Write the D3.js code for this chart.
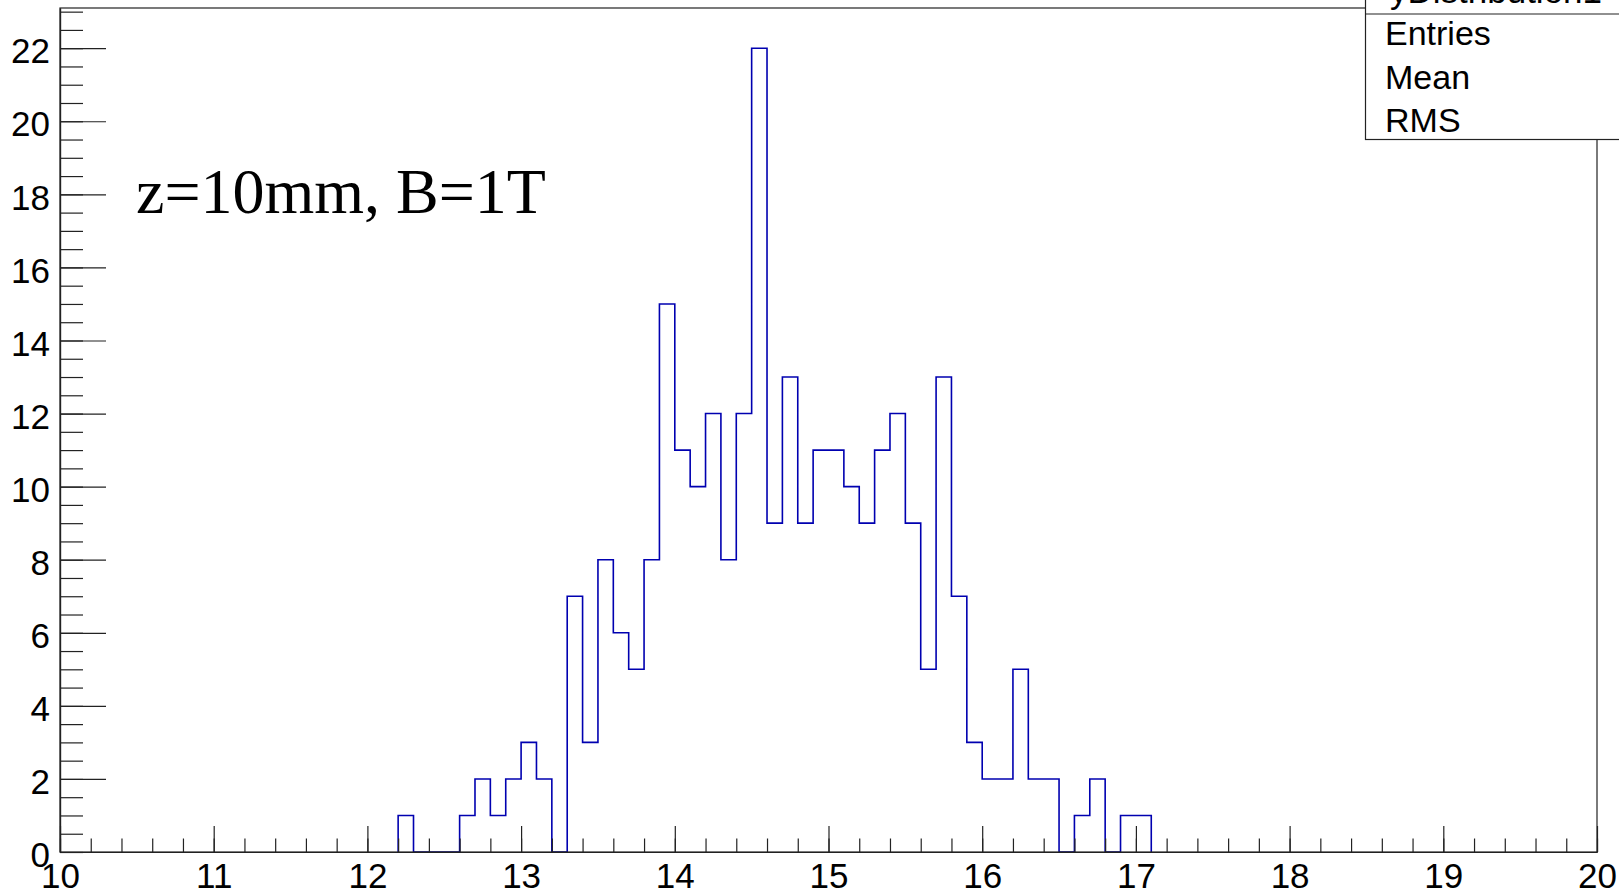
<!DOCTYPE html>
<html>
<head>
<meta charset="utf-8">
<script src="https://cdn.jsdelivr.net/npm/d3@7"></script>
<style>
  body { margin: 0; background: #fff; }
  svg { display: block; }
</style>
</head>
<body>
<div id="chart"></div>
<script>
// histogram: 0.1 wide bins, first filled bin starts at 12.2
let binStart = 12.2
let binWidth = 0.1
let counts = [1, 0, 0, 0, 1, 2, 1, 2, 3, 2, 0, 7, 3, 8, 6, 5, 8, 15, 11, 10,
  12, 8, 12, 22, 9, 13, 9, 11, 11, 10, 9, 11, 12, 9, 5, 13, 7, 3, 2, 2,
  5, 2, 2, 0, 1, 2, 0, 1, 1]

let xTickLabels = [10, 11, 12, 13, 14, 15, 16, 17, 18, 19, 20]
let yTickLabels = [0, 2, 4, 6, 8, 10, 12, 14, 16, 18, 20, 22]
let statsRows = ["Entries", "Mean", "RMS"]
let statsTitle = "yDistribution1"
let note = "z=10mm, B=1T"

let width = 1619
let height = 891
let margin = {left: 60, right: 22, top: 8, bottom: 39}

let svg = d3.select("#chart")
  .append("svg")
  .attr("width", width)
  .attr("height", height)

let x = d3.scaleLinear().domain([10, 20]).range([margin.left, width - margin.right])
let y = d3.scaleLinear().domain([0, 23.1]).range([height - margin.bottom, margin.top])

// step outline of the histogram
let pts = [[binStart, 0]]
counts.forEach((c, i) => {
  let lo = binStart + i * binWidth
  pts.push([lo, c])
  pts.push([lo + binWidth, c])
})
pts.push([binStart + counts.length * binWidth, 0])

let line = d3.line()
  .x(d => x(d[0]))
  .y(d => y(d[1]))

svg.append("path")
  .datum(pts)
  .attr("d", line)
  .attr("fill", "none")
  .attr("stroke", "#0000b0")
  .attr("stroke-width", 1.6)

let axisColor = "#222"

// x axis: minor ticks every 0.2, major every 1
let xMinor = svg.append("g")
  .attr("transform", `translate(0,${y(0)})`)
  .call(d3.axisBottom(x).tickValues(d3.range(10, 20.01, 0.2)).tickSizeInner(-13.5).tickSizeOuter(0).tickFormat(""))
let xMajor = svg.append("g")
  .attr("transform", `translate(0,${y(0)})`)
  .call(d3.axisBottom(x).tickValues(xTickLabels).tickSizeInner(-26).tickSizeOuter(0).tickPadding(11).tickFormat(d3.format("d")))

// y axis: minor ticks every 0.5, major every 2
let yMinor = svg.append("g")
  .attr("transform", `translate(${x(10)},0)`)
  .call(d3.axisLeft(y).tickValues(d3.range(0, 23.01, 0.5)).tickSizeInner(-23).tickSizeOuter(0).tickFormat(""))
let yMajor = svg.append("g")
  .attr("transform", `translate(${x(10)},0)`)
  .call(d3.axisLeft(y).tickValues(yTickLabels).tickSizeInner(-46).tickSizeOuter(0).tickPadding(10).tickFormat(d3.format("d")))

yMajor.selectAll(".tick text").attr("dy", "0.42em")

svg.selectAll(".tick line").attr("stroke", axisColor).attr("stroke-width", 1.2)
svg.selectAll(".domain").attr("stroke", axisColor).attr("stroke-width", 1.2)
svg.selectAll(".tick text")
  .attr("fill", "#000")
  .style("font-family", "'Liberation Sans', Arial, sans-serif")
  .style("font-size", "35px")

// frame
svg.append("rect")
  .attr("x", x(10))
  .attr("y", y(23.1))
  .attr("width", x(20) - x(10))
  .attr("height", y(0) - y(23.1))
  .attr("fill", "none")
  .attr("stroke", axisColor)
  .attr("stroke-width", 1.2)

// label text
svg.append("text")
  .attr("x", 136)
  .attr("y", 213)
  .style("font-family", "'Liberation Serif', 'Times New Roman', serif")
  .style("font-size", "64px")
  .attr("fill", "#000")
  .text(note)

// stats box (cut by the window edge)
let box = svg.append("g")
box.append("rect")
  .attr("x", 1365.5)
  .attr("y", -60)
  .attr("width", 400)
  .attr("height", 199.5)
  .attr("fill", "#fff")
  .attr("stroke", axisColor)
  .attr("stroke-width", 1.2)
box.append("line")
  .attr("x1", 1365.5).attr("x2", 1765)
  .attr("y1", 14).attr("y2", 14)
  .attr("stroke", axisColor)
  .attr("stroke-width", 1.2)
box.append("text")
  .attr("x", 1390)
  .attr("y", 3)
  .style("font-family", "'Liberation Sans', Arial, sans-serif")
  .style("font-size", "35px")
  .text(statsTitle)
box.selectAll(".row")
  .data(statsRows)
  .enter()
  .append("text")
  .attr("class", "row")
  .attr("x", 1385)
  .attr("y", (d, i) => 45 + i * 43.5)
  .style("font-family", "'Liberation Sans', Arial, sans-serif")
  .style("font-size", "34px")
  .attr("fill", "#000")
  .text(d => d)
</script>
</body>
</html>
